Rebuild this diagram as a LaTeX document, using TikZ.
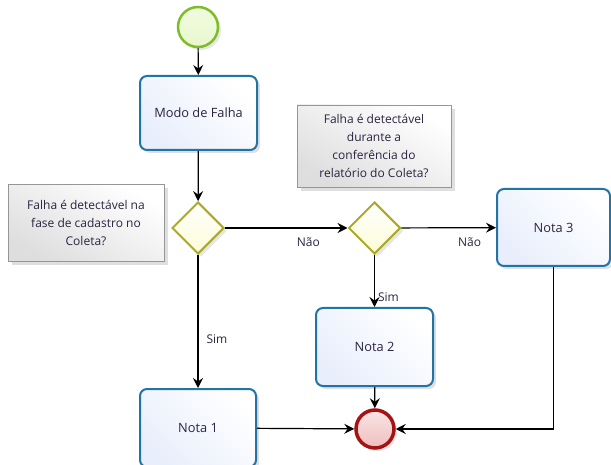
\documentclass[tikz,border=0pt]{standalone}
\usepackage{fontspec}
\setmainfont{Open Sans}
\usetikzlibrary{arrows.meta,shadows,shapes.geometric}
\definecolor{taskline}{RGB}{35,115,165}
\definecolor{taskfill}{RGB}{232,238,252}
\definecolor{gwline}{RGB}{170,170,40}
\definecolor{gwfill}{RGB}{252,252,215}
\definecolor{startline}{RGB}{125,190,40}
\definecolor{startfill}{RGB}{232,248,205}
\definecolor{endline}{RGB}{165,20,20}
\definecolor{endfill}{RGB}{240,190,190}
\definecolor{noteline}{RGB}{150,150,150}
\definecolor{notefill}{RGB}{222,222,222}
\definecolor{txt}{RGB}{45,35,65}
\tikzset{
  base/.style={text=txt, font=\fontsize{12}{18}\selectfont},
  task/.style={text=txt, font=\fontsize{12.8}{18}\selectfont, draw=taskline, line width=2pt, rounded corners=7pt,
    top color=white, bottom color=taskfill, shading angle=-45,
    drop shadow={shadow xshift=3pt, shadow yshift=-3pt, opacity=0.25}},
  gw/.style={diamond, aspect=1, draw=gwline, line width=2pt, inner sep=0pt,
    minimum width=52pt, minimum height=52pt, top color=white, bottom color=gwfill,
    drop shadow={shadow xshift=3pt, shadow yshift=-3pt, opacity=0.2}},
  note/.style={base, draw=noteline, line width=0.8pt, align=center,
    top color=white, bottom color=notefill, shading angle=-30,
    drop shadow={shadow xshift=4pt, shadow yshift=-4pt, opacity=0.25}},
  flow/.style={draw=black, line width=1.2pt, -{Stealth[length=10pt,width=10pt,inset=3.5pt]}},
  lbl/.style={base, inner sep=1pt}
}
\begin{document}
\begin{tikzpicture}[x=1pt,y=-1pt]
\useasboundingbox (0,0) rectangle (611,465);
\node[circle, draw=startline, line width=2.5pt, minimum size=40pt, inner sep=0pt,
  top color=startfill!60!white, bottom color=startfill,
  drop shadow={shadow xshift=3pt, shadow yshift=-3pt, opacity=0.2}] (start) at (198,27) {};
\node[task, minimum width=117pt, minimum height=74pt] (modo) at (198.5,113) {Modo de Falha};
\node[gw] (g1) at (198,228) {};
\node[gw] (g2) at (374.5,228) {};
\node[note, minimum width=156pt, minimum height=77pt] (a1) at (86,223) {Falha é detectável na\\fase de cadastro no\\Coleta?};
\node[note, minimum width=154pt, minimum height=82pt] (a2) at (374,146) {Falha é detectável\\durante a\\conferência do\\relatório do Coleta?};
\node[task, minimum width=113pt, minimum height=77pt] (n3) at (553.5,227.5) {Nota 3};
\node[task, minimum width=117pt, minimum height=78pt] (n2) at (374.5,347) {Nota 2};
\node[task, minimum width=116pt, minimum height=78pt] (n1) at (198,428) {Nota 1};
\node[circle, draw=endline, line width=3.5pt, minimum size=38pt, inner sep=0pt,
  top color=endfill!40!white, bottom color=endfill,
  drop shadow={shadow xshift=3pt, shadow yshift=-3pt, opacity=0.2}] (end) at (375,429) {};
\draw[flow] (start) -- (modo);
\draw[flow] (modo) -- (g1);
\draw[flow] (g1) -- (n1) node[lbl, pos=0.63, right=7pt] {Sim};
\draw[flow] (g1) -- (g2) node[lbl, pos=0.68, below=8pt] {Não};
\draw[flow] (g2) -- (n3) node[lbl, pos=0.72, below=8pt] {Não};
\draw[flow] (g2) -- (n2) node[lbl, pos=0.82, right=2pt] {Sim};
\draw[flow] (n2) -- (end);
\draw[flow] (n1) -- (end);
\draw[flow] (n3) |- (end);
\end{tikzpicture}
\end{document}
